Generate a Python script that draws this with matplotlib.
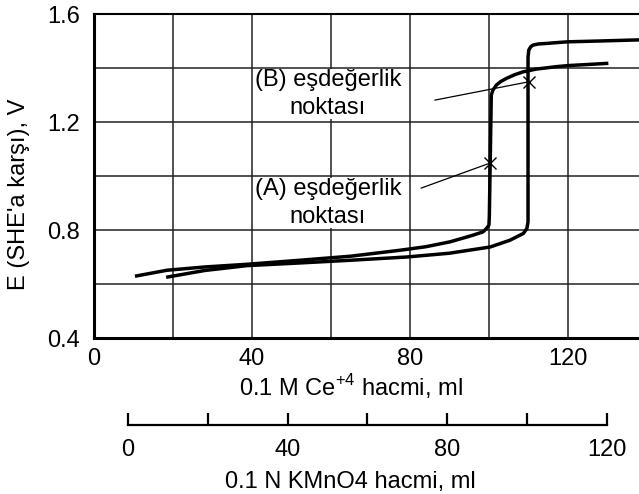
import matplotlib
matplotlib.use("Agg")
import matplotlib.pyplot as plt

plt.rcParams["font.family"] = ["Liberation Sans", "DejaVu Sans"]

# Fe(II) titration with 0.1 M Ce(IV), volume on the Ce scale (ml) and potential (V)
ce_ml = [10.8, 18.5, 28, 38.7, 52.2, 65, 77.5, 84, 90.1, 94.4, 96.0, 98.5, 99.4, 100.0,
         100.1, 100.6, 101.0, 101.9, 103.0, 104.5, 106.5, 108.7, 112, 117.1, 120.1, 125, 129.8]
ce_E = [0.630, 0.651, 0.663, 0.673, 0.688, 0.703, 0.725, 0.738, 0.756, 0.774, 0.781, 0.793,
        0.806, 0.818, 0.85, 1.300, 1.318, 1.337, 1.350, 1.362, 1.375, 1.386, 1.396, 1.405,
        1.409, 1.413, 1.417]

# Fe(II) titration with 0.1 N KMnO4, drawn against the Ce scale
kmno4_ml = [18.7, 28, 38.7, 52.2, 65, 79.2, 90, 100.3, 105.3, 108.7, 109.6, 109.9,
            109.9, 110.1, 110.6, 111.2, 112.5, 114.6, 118, 120, 128, 140]
kmno4_E = [0.626, 0.650, 0.668, 0.678, 0.688, 0.700, 0.714, 0.737, 0.762, 0.787, 0.805,
           0.830, 1.440, 1.467, 1.479, 1.485, 1.489, 1.491, 1.495, 1.497, 1.500, 1.505]

# equivalence points (A: Ce, B: KMnO4) and where their leader lines start
eq_ml = [100.3, 110.1]
eq_E = [1.048, 1.349]
leader_ml = [82.8, 86.3]
leader_E = [0.955, 1.281]
eq_labels = ["(A) eşdeğerlik\nnoktası", "(B) eşdeğerlik\nnoktası"]
label_ml = [59.2, 59.2]
label_E = [0.900, 1.304]

x_grid = [0, 20, 40, 60, 80, 100, 120]
x_labels = ["0", "", "40", "", "80", "", "120"]
y_grid = [0.4, 0.6, 0.8, 1.0, 1.2, 1.4, 1.6]
y_labels = ["0.4", "", "0.8", "", "1.2", "", "1.6"]
k_ticks = [0, 20, 40, 60, 80, 100, 120]
k_labels = ["0", "", "40", "", "80", "", "120"]

FS = 17

fig = plt.figure(figsize=(6.39, 4.94), dpi=100)

# main axes
ax = fig.add_axes([94 / 639, 1 - 338 / 494, 545 / 639, 324 / 494])
ax.set_xlim(0, 138)
ax.set_ylim(0.4, 1.6)
ax.set_xticks(x_grid, x_labels)
ax.set_yticks(y_grid, y_labels)
ax.tick_params(length=0, labelsize=FS)
ax.tick_params(axis="x", pad=7)
ax.tick_params(axis="y", pad=10)
ax.grid(True, color="#222222", linewidth=1.1)
ax.set_axisbelow(True)
ax.spines["right"].set_visible(False)
ax.spines["left"].set_linewidth(2.2)
ax.spines["bottom"].set_linewidth(2.2)
ax.spines["top"].set_linewidth(1.5)

ax.plot(ce_ml, ce_E, color="black", linewidth=2.5, solid_joinstyle="round", zorder=4)
ax.plot(kmno4_ml, kmno4_E, color="black", linewidth=2.5, solid_joinstyle="round",
        clip_on=True, zorder=4)
ax.plot(eq_ml, eq_E, linestyle="none", marker="x", markersize=8, markeredgewidth=1.0,
        color="black", zorder=5)

for px, pe, lx, le in zip(eq_ml, eq_E, leader_ml, leader_E):
    ax.annotate("", xy=(px, pe), xytext=(lx, le),
                arrowprops=dict(arrowstyle="-", color="black", linewidth=0.9,
                                shrinkA=0, shrinkB=0))

for text, tx, te in zip(eq_labels, label_ml, label_E):
    ax.text(tx, te, text, ha="center", va="center", fontsize=FS, linespacing=1.35,
            multialignment="center",
            bbox=dict(facecolor="white", edgecolor="none", pad=0.2))

ax.set_ylabel("E (SHE'a karşı), V", fontsize=FS)
ax.yaxis.set_label_coords(-0.117, 0.444)
ax.set_xlabel("0.1 M Ce$^{\\mathregular{+4}}$ hacmi, ml", fontsize=FS)
ax.xaxis.set_label_coords(0.4716, -0.105)

# second scale for KMnO4 volume
ax2 = fig.add_axes([128 / 639, (494 - 425) / 494, 478.7 / 639, 0.05])
ax2.set_xlim(0, 120)
ax2.set_yticks([])
ax2.patch.set_visible(False)
for side in ["left", "right", "top"]:
    ax2.spines[side].set_visible(False)
ax2.spines["bottom"].set_linewidth(1.6)
ax2.set_xticks(k_ticks, k_labels)
ax2.tick_params(axis="x", direction="in", length=8.6, width=1.6, pad=10, labelsize=FS)
ax2.set_xlabel("0.1 N KMnO4 hacmi, ml", fontsize=FS)
ax2.xaxis.set_label_coords((350.5 - 128) / 478.7, -1.85)

fig.savefig("out.png", dpi=100)
